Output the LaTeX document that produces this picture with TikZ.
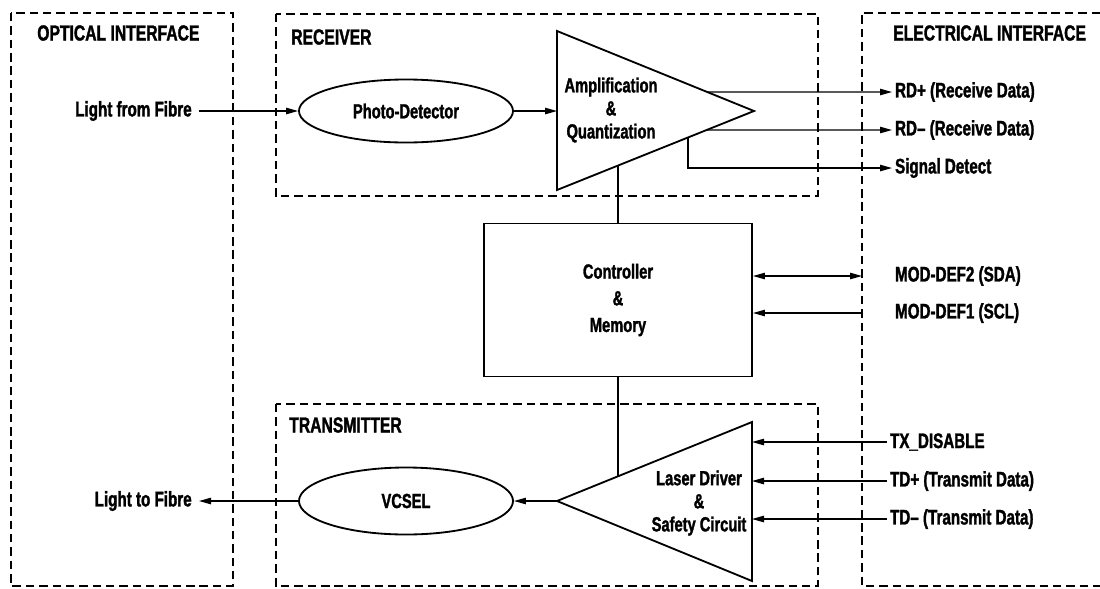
\documentclass[tikz,border=0pt]{standalone}
\usepackage{fontspec}
\setmainfont{Liberation Sans}[FakeStretch=0.72, BoldFeatures={FakeBold=1.5}]
\usetikzlibrary{arrows.meta, positioning, calc, shapes.geometric}

\begin{document}
\begin{tikzpicture}[
    x=0.025cm, y=-0.025cm,
    every node/.style={font=\bfseries\fontsize{14.5}{16.4}\selectfont, align=center},
    zone/.style={line width=2pt, dash pattern=on 6pt off 3.5pt},
    title/.style={anchor=west, inner sep=0pt, font=\bfseries\fontsize{15.5}{17}\selectfont},
    block/.style={draw, line width=1.3pt},
    pin/.style={anchor=west, inner sep=2pt, font=\bfseries\fontsize{15}{17}\selectfont},
    wire/.style={line width=0.9pt},
    arrow/.style={wire, -{Triangle[length=3mm, width=1.6mm]}},
    both/.style={wire, {Triangle[length=3mm, width=1.6mm]}-{Triangle[length=3mm, width=1.6mm]}}
  ]
    \useasboundingbox (0,0) rectangle (1100,588);

    % dashed areas
    \draw[zone] (11,13) rectangle (233,586);
    \draw[zone] (276,14) rectangle (818,196);
    \draw[zone] (276,404) rectangle (818,586);
    \draw[zone] (1100,13) -| (862,586) -- (1100,586);
    \coordinate (ez) at (862,13);

    \node[title] (optical) at (37,33) {OPTICAL INTERFACE};
    \node[title] (receiver) at (291,37) {RECEIVER};
    \node[title] (electrical) at (893,33) {ELECTRICAL INTERFACE};
    \node[title] (transmitter) at (289,425) {TRANSMITTER};

    % receiver
    \node[block, ellipse, minimum width=5.35cm, minimum height=1.575cm] (pd) at (406,111) {Photo-Detector};
    \coordinate (amp-top) at (557,31);
    \coordinate (amp-bot) at (557,190);
    \coordinate (amp-tip) at (754,111);
    \draw[block] (amp-top) -- (amp-tip) -- (amp-bot) -- cycle;
    \node (amp) at (611,110) {Amplification\\\&\\Quantization};

    % controller
    \node[block, minimum width=6.7cm, minimum height=3.825cm, font=\bfseries\fontsize{14.5}{19}\selectfont] (ctrl) at (618,300) {Controller\\\&\\Memory};

    % transmitter
    \node[block, ellipse, minimum width=5.35cm, minimum height=1.675cm] (vcsel) at (406,501) {VCSEL};
    \coordinate (ld-top) at (752,422);
    \coordinate (ld-bot) at (752,581);
    \coordinate (ld-tip) at (557,501);
    \draw[block] (ld-top) -- (ld-tip) -- (ld-bot) -- cycle;
    \node (ld) at (699,503) {Laser Driver\\\&\\Safety Circuit};

    % outside signals
    \node[pin, anchor=east, inner sep=5pt] (fromfibre) at (199,111) {Light from Fibre};
    \node[pin, anchor=east, inner sep=5pt] (tofibre) at (199,501) {Light to Fibre};
    \node[pin] (rdp) at (892,92) {RD+ (Receive Data)};
    \node[pin] (rdn) at (892,130) {RD-- (Receive Data)};
    \node[pin] (sd) at (892,168) {Signal Detect};
    \node[pin] (sda) at (892,276) {MOD-DEF2 (SDA)};
    \node[pin] (scl) at (892,313) {MOD-DEF1 (SCL)};
    \node[pin] (txd) at (887,442) {TX\_DISABLE};
    \node[pin] (tdp) at (887,481) {TD+ (Transmit Data)};
    \node[pin] (tdn) at (887,519) {TD-- (Transmit Data)};

    % connections
    \draw[arrow] (fromfibre.east) -- (pd.west);
    \draw[arrow] (pd.east) -- (pd.east -| amp-top);
    \draw[arrow] ($(amp-top)!0.7625!(amp-tip)$) -- (rdp.west);
    \draw[arrow] ($(amp-bot)!0.76!(amp-tip)$) -- (rdn.west);
    \draw[arrow] ($(amp-bot)!0.665!(amp-tip)$) |- (sd.west);
    \draw[wire] ($(amp-bot)!0.31!(amp-tip)$) coordinate (a) -- (a |- ctrl.north);
    \draw[both] (sda -| ctrl.east) -- (sda -| ez);
    \draw[arrow] (scl -| ez) -- (scl -| ctrl.east);
    \draw[wire] (ctrl.south) -- (ctrl.south |- {$(ld-tip)!0.313!(ld-top)$});
    \draw[arrow] (txd.west) -- (txd.west -| ld-top);
    \draw[arrow] (tdp.west) -- (tdp.west -| ld-top);
    \draw[arrow] (tdn.west) -- (tdn.west -| ld-top);
    \draw[arrow] (ld-tip) -- (vcsel.east);
    \draw[arrow] (vcsel.west) -- (tofibre.east);
\end{tikzpicture}
\end{document}
